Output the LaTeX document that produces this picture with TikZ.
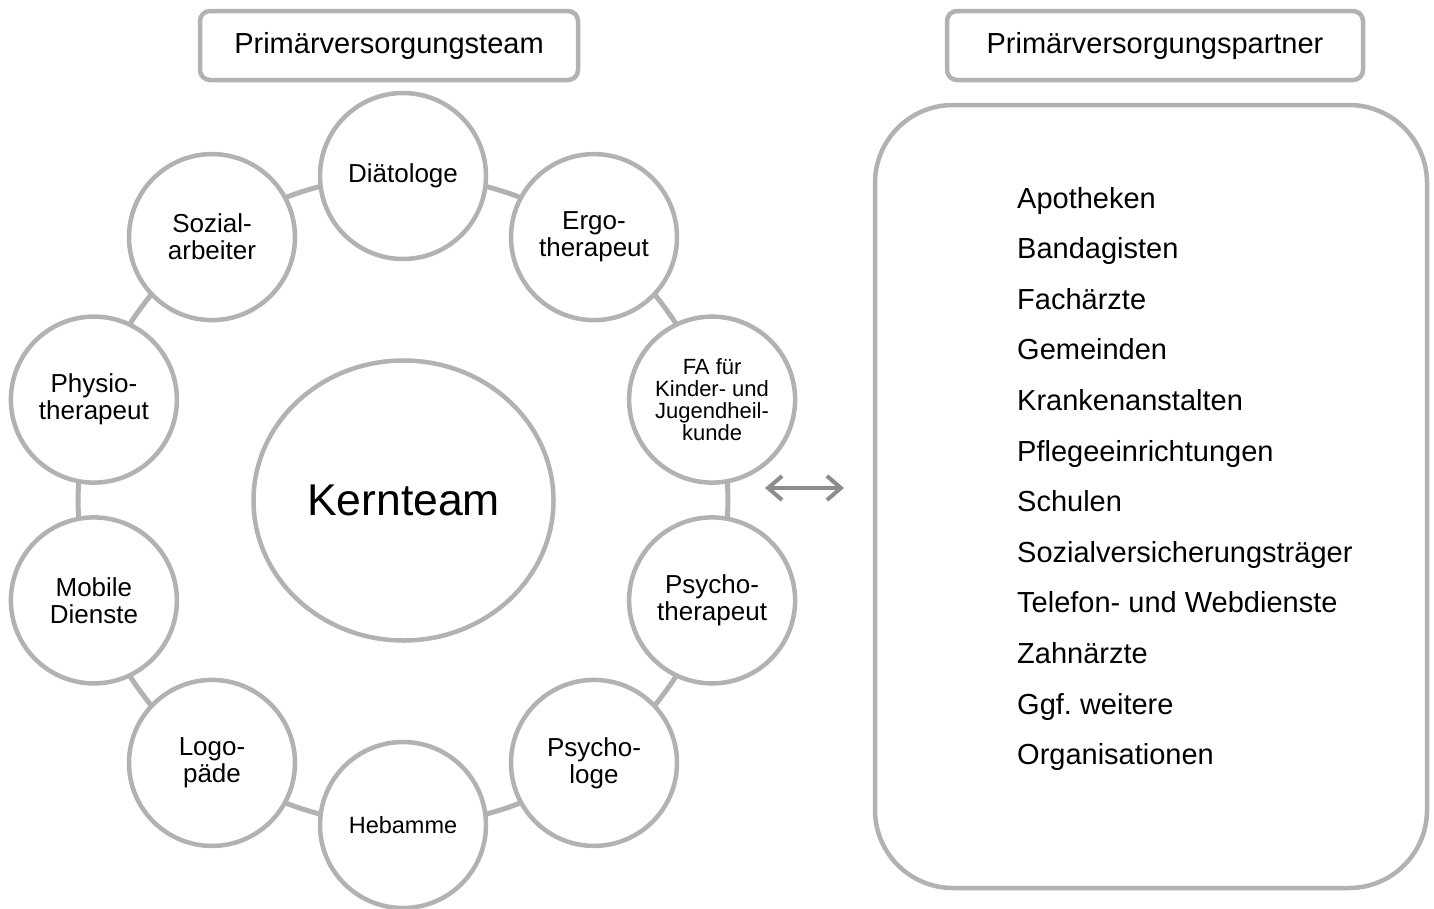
\documentclass[tikz,border=0pt]{standalone}
\usepackage{fontspec}
\setmainfont{Liberation Sans}
\usetikzlibrary{shapes.geometric,arrows.meta,backgrounds}
\definecolor{ringgray}{RGB}{178,178,178}
\definecolor{arrgray}{RGB}{140,140,140}
\frenchspacing
\begin{document}
\begin{tikzpicture}[x=1pt,y=1pt,
  member/.style={circle,draw=ringgray,line width=4.5pt,fill=white,minimum size=166pt,inner sep=0pt,align=center,font=\fontsize{26}{27}\selectfont},
  smallmember/.style={member,font=\fontsize{23.5}{24}\selectfont},
  tinymember/.style={member,font=\fontsize{22}{22}\selectfont},
  core/.style={ellipse,draw=ringgray,line width=4.5pt,fill=white,minimum width=300pt,minimum height=280pt,inner sep=0pt,font=\fontsize{44.5}{48}\selectfont},
  header/.style={draw=ringgray,line width=4.5pt,rounded corners=10pt,fill=white,minimum height=69pt,inner sep=0pt,font=\fontsize{29}{31}\selectfont},
  partnerbox/.style={draw=ringgray,line width=4.5pt,rounded corners=78pt,minimum width=552pt,minimum height=783pt,inner sep=0pt},
  item/.style={anchor=base west,inner sep=0pt,font=\fontsize{29}{31}\selectfont},
  ringline/.style={draw=ringgray,line width=5pt},
  linkarrow/.style={draw=arrgray,line width=4pt,{Straight Barb[length=14pt,width=24pt]}-{Straight Barb[length=14pt,width=24pt]}}
]
\useasboundingbox (0,0) rectangle (1434,-908);

% headers
\node[header,minimum width=378pt] (hdrL) at (389,-45.5) {Primärversorgungsteam};
\node[header,minimum width=416pt] (hdrR) at (1155,-45.5) {Primärversorgungspartner};

% core team
\node[core] (kern) at (403.5,-500.5) {\makebox[0pt]{Kernteam}};

% ring members
\node[member] (dia)  at (403,-176)      {Diätologe};
\node[member] (ergo) at (594.0,-237.1)  {Ergo-\\therapeut};
\node[tinymember] (fa) at (712.1,-399.6) {FA für\\Kinder- und\\Jugendheil-\\kunde};
\node[member] (pth)  at (712.1,-600.4)  {Psycho-\\therapeut};
\node[member] (psl)  at (594.0,-762.9)  {Psycho-\\loge};
\node[smallmember] (heb) at (403,-825)  {Hebamme};
\node[member] (logo) at (212.0,-762.9)  {Logo-\\päde};
\node[member] (mob)  at (93.9,-600.4)   {Mobile\\Dienste};
\node[member] (phy)  at (93.9,-399.6)   {Physio-\\therapeut};
\node[member] (soz)  at (212.0,-237.1)  {Sozial-\\arbeiter};

% ring connectors behind the circles
\begin{scope}[on background layer]
  \fill[white] (0,0) rectangle (1434,-908);
  \path[ringline] (dia.center)  to[bend left=18,looseness=0.87] (ergo.center);
  \path[ringline] (ergo.center) to[bend left=18,looseness=0.87] (fa.center);
  \path[ringline] (fa.center)   to[bend left=18,looseness=0.87] (pth.center);
  \path[ringline] (pth.center)  to[bend left=18,looseness=0.87] (psl.center);
  \path[ringline] (psl.center)  to[bend left=18,looseness=0.87] (heb.center);
  \path[ringline] (heb.center)  to[bend left=18,looseness=0.87] (logo.center);
  \path[ringline] (logo.center) to[bend left=18,looseness=0.87] (mob.center);
  \path[ringline] (mob.center)  to[bend left=18,looseness=0.87] (phy.center);
  \path[ringline] (phy.center)  to[bend left=18,looseness=0.87] (soz.center);
  \path[ringline] (soz.center)  to[bend left=18,looseness=0.87] (dia.center);
\end{scope}

% partner box
\node[partnerbox] (partners) at (1151,-496.5) {};

% partner list
\foreach \t [count=\i from 0] in {Apotheken,Bandagisten,Fachärzte,Gemeinden,Krankenanstalten,Pflegeeinrichtungen,Schulen,Sozialversicherungsträger,Telefon- und Webdienste,Zahnärzte,Ggf. weitere,Organisationen}
  \node[item] (p\i) at (1017,{-208-50.6*\i}) {\t};

% double arrow
\coordinate (arrL) at (765,-488);
\coordinate (arrR) at (844,-488);
\draw[linkarrow] (arrL) -- (arrR);
\end{tikzpicture}
\end{document}
